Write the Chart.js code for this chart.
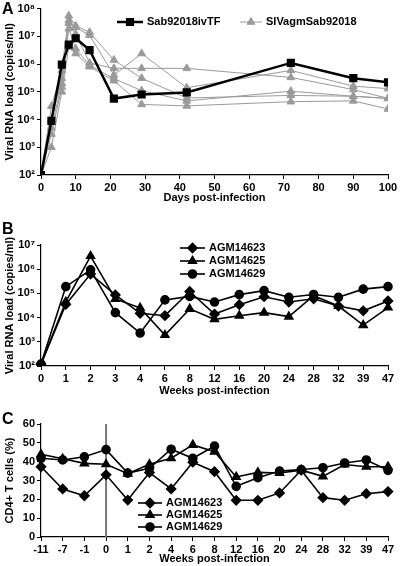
<!DOCTYPE html>
<html>
<head>
<meta charset="utf-8">
<script src="https://cdn.jsdelivr.net/npm/chart.js@4.4.1/dist/chart.umd.min.js"></script>
<style>
  html, body { margin: 0; padding: 0; background: #fff; }
  body { width: 400px; height: 566px; position: relative; overflow: hidden; font-family: "Liberation Sans", Arial, sans-serif; }
  .panel { position: absolute; left: 0; width: 400px; }
  .letter { position: absolute; left: 2px; font-weight: bold; font-size: 16px; line-height: 16px; }
</style>
</head>
<body>
<div class="panel" style="top:0;height:205px"><canvas id="chartA"></canvas></div>
<div class="panel" style="top:205px;height:193px"><canvas id="chartB"></canvas></div>
<div class="panel" style="top:398px;height:168px"><canvas id="chartC"></canvas></div>
<div class="letter" style="top:1px">A</div>
<div class="letter" style="top:221px">B</div>
<div class="letter" style="top:411px">C</div>
<script>
// ---- panel A: viral load, days post-infection
const daysA = [0, 3, 6, 8, 10, 14, 21, 29, 42, 72, 90, 100];
const ivtfLoad = [1e2, 9e3, 9.5e5, 5e6, 8.5e6, 3.2e6, 5.7e4, 8e4, 9.5e4, 1.1e6, 3.1e5, 2.2e5];
const sabLoad1 = [1e2, 3e4, 6e5, 5.5e7, 2.4e7, 1.4e7, 1.4e6, 3.1e5, 6e4, 7.4e4, 6.9e4, 5.8e4];
const sabLoad2 = [1e2, 1e4, 3e5, 3.7e7, 2.1e7, 1.1e7, 4e5, 2.4e6, 1.4e5, 5.9e5, 1.6e5, 1.3e5];
const sabLoad3 = [1e2, 5e3, 2e5, 3e7, 1.2e7, 1.1e6, 7e5, 7e5, 7e5, 3.3e5, 1.2e5, 5.8e4];
const sabLoad4 = [1e2, 3e3, 1.5e5, 1.9e7, 3.6e6, 9e5, 3e5, 1.1e5, 4.7e4, 1.05e5, 6.9e4, 5.8e4];
const sabLoad5 = [1e2, 1e3, 1e5, 4e6, 2.4e6, 8e5, 2.5e5, 3.5e4, 3.1e4, 4.4e4, 4.7e4, 2.4e4];

// ---- panel B: viral load, weeks post-infection
const weeksB = ['0', '1', '2', '3', '4', '6', '8', '12', '16', '20', '24', '28', '32', '39', '47'];
const load14623 = [1.2e2, 3.5e4, 6.3e5, 8.6e4, 1.5e4, 1.2e4, 1.2e5, 1.4e4, 3.4e4, 7.3e4, 4.4e4, 6e4, 3e4, 1.9e4, 4.9e4];
const load14625 = [1.2e2, 4.5e4, 3.5e6, 5.9e4, 2.5e4, 1.9e3, 2.3e4, 8.5e3, 1.2e4, 1.6e4, 1.1e4, 8e4, 3e4, 4.9e3, 2.6e4];
const load14629 = [1.2e2, 1.9e5, 9.4e5, 1.6e4, 2.3e3, 5.4e4, 7.5e4, 4.4e4, 8.9e4, 1.3e5, 6.9e4, 9e4, 6.9e4, 1.5e5, 1.9e5];

// ---- panel C: CD4+ T cells
const weeksC = ['-11', '-7', '-1', '0', '1', '2', '4', '6', '8', '12', '16', '20', '24', '28', '32', '39', '47'];
const cd4_14623 = [37.3, 25.5, 21.9, 33, 19.6, 34.2, 25.5, 39.7, 34.7, 19.5, 19.5, 23.4, 35.5, 20.9, 19.5, 23, 24.1];
const cd4_14625 = [43.9, 41.5, 39.1, 38.6, 33.6, 38.6, 41.8, 48.9, 45.3, 31.9, 34.3, 34, 35.5, 32.2, 38.5, 37.3, 37.3];
const cd4_14629 = [41.8, 40.9, 42.6, 46.4, 33.9, 36.5, 46.6, 41.8, 48.3, 26.9, 31.5, 35, 35.8, 36.8, 39.3, 40.9, 35.4];
const infectionWeek = '0';

const FONT = '"Liberation Sans", Arial, Helvetica, sans-serif';
Chart.defaults.font.family = FONT;
Chart.defaults.color = '#000';
Chart.defaults.animation = false;
Chart.defaults.plugins.legend.display = false;
Chart.defaults.plugins.tooltip.enabled = false;
Chart.defaults.elements.line.tension = 0;

const SUP = { 2: '\u00b2', 3: '\u00b3', 4: '\u2074', 5: '\u2075', 6: '\u2076', 7: '\u2077', 8: '\u2078' };
const tickFont = { size: 11, weight: 'bold' };
const titleFont = { size: 11, weight: 'bold' };
const gridStyle = { drawOnChartArea: false, drawTicks: true, tickLength: 4, color: '#000', lineWidth: 1 };
const borderStyle = { display: true, color: '#000', width: 1.2 };

// legend drawn as line + marker + label, like the figure
const lineLegend = {
  id: 'lineLegend',
  afterDraw(chart, args, opts) {
    if (!opts.items) return;
    const ctx = chart.ctx;
    ctx.save();
    opts.items.forEach(it => {
      const ds = chart.data.datasets[it.ds];
      ctx.strokeStyle = ds.borderColor;
      ctx.lineWidth = ds.borderWidth;
      ctx.beginPath();
      ctx.moveTo(it.x, it.y);
      ctx.lineTo(it.x + it.len, it.y);
      ctx.stroke();
      ctx.fillStyle = ds.pointBackgroundColor;
      ctx.strokeStyle = ds.pointBackgroundColor;
      Chart.helpers.drawPoint(ctx, { pointStyle: ds.pointStyle, radius: ds.pointRadius, borderWidth: 1, rotation: 0 }, it.x + it.len / 2, it.y);
      ctx.fillStyle = '#000';
      ctx.font = 'bold 11px ' + FONT;
      ctx.textBaseline = 'middle';
      ctx.fillText(ds.label, it.x + it.len + 4, it.y);
    });
    ctx.restore();
  }
};

function logAxis(minExp, maxExp, title) {
  return {
    type: 'logarithmic', min: 10 ** minExp, max: 10 ** maxExp,
    afterBuildTicks: s => {
      s.ticks = [];
      for (let e = minExp; e <= maxExp; e++) s.ticks.push({ value: 10 ** e });
    },
    afterFit: s => { s.width = 41; },
    ticks: { font: tickFont, padding: 2, callback: v => '10' + SUP[Math.round(Math.log10(v))] },
    grid: gridStyle, border: borderStyle,
    title: { display: true, text: title, font: titleFont, padding: { top: 3, bottom: 0 } }
  };
}

function bottomAxis(type, title, h, extra) {
  return Object.assign({
    type: type, offset: false,
    afterFit: s => { s.height = h; },
    ticks: { font: tickFont, padding: 2, autoSkip: false, maxRotation: 0 },
    grid: Object.assign({ offset: false }, gridStyle), border: borderStyle,
    title: { display: true, text: title, font: titleFont, padding: { top: 0, bottom: 0 } }
  }, extra || {});
}

function xy(xs, ys) { return xs.map((x, i) => ({ x: x, y: ys[i] })); }

function graySeries(label, ys) {
  return {
    label: label, data: xy(daysA, ys), order: 1,
    borderColor: '#9a9a9a', borderWidth: 1,
    pointStyle: 'triangle', pointRadius: 4.5,
    pointBackgroundColor: '#9a9a9a', pointBorderColor: '#9a9a9a'
  };
}

function blackSeries(label, data, style, radius) {
  return {
    label: label, data: data,
    borderColor: '#000', borderWidth: 1.6,
    pointStyle: style, pointRadius: radius,
    pointBackgroundColor: '#000', pointBorderColor: '#000'
  };
}

// Panel A
new Chart(document.getElementById('chartA'), {
  type: 'line',
  data: {
    datasets: [
      {
        label: 'Sab92018ivTF', data: xy(daysA, ivtfLoad), order: 0,
        borderColor: '#000', borderWidth: 2.5,
        pointStyle: 'rect', pointRadius: 4,
        pointBackgroundColor: '#000', pointBorderColor: '#000'
      },
      graySeries('SIVagmSab92018', sabLoad1),
      graySeries('SIVagmSab92018', sabLoad2),
      graySeries('SIVagmSab92018', sabLoad3),
      graySeries('SIVagmSab92018', sabLoad4),
      graySeries('SIVagmSab92018', sabLoad5)
    ]
  },
  options: {
    responsive: true, maintainAspectRatio: false,
    layout: { padding: { top: 6, right: 12, left: 0, bottom: 0 } },
    scales: {
      x: bottomAxis('linear', 'Days post-infection', 30, { min: 0, max: 100 }),
      y: logAxis(2, 8, 'Viral RNA load (copies/ml)')
    },
    plugins: {
      lineLegend: { items: [
        { ds: 0, x: 117, y: 22, len: 26 },
        { ds: 1, x: 240, y: 22, len: 22 }
      ] }
    }
  },
  plugins: [lineLegend]
});
// step of 10 on the day axis
Chart.getChart('chartA').options.scales.x.ticks.stepSize = 10;
Chart.getChart('chartA').update();

// Panel B
new Chart(document.getElementById('chartB'), {
  type: 'line',
  data: {
    labels: weeksB,
    datasets: [
      blackSeries('AGM14623', load14623, 'rectRot', 4.5),
      blackSeries('AGM14625', load14625, 'triangle', 4.5),
      blackSeries('AGM14629', load14629, 'circle', 4)
    ]
  },
  options: {
    responsive: true, maintainAspectRatio: false,
    layout: { padding: { top: 40, right: 12, left: 0, bottom: 0 } },
    scales: {
      x: bottomAxis('category', 'Weeks post-infection', 32),
      y: logAxis(2, 7, 'Viral RNA load (copies/ml)')
    },
    plugins: {
      lineLegend: { items: [
        { ds: 0, x: 180, y: 43, len: 25 },
        { ds: 1, x: 180, y: 56, len: 25 },
        { ds: 2, x: 180, y: 69, len: 25 }
      ] }
    }
  },
  plugins: [lineLegend]
});

// Panel C
new Chart(document.getElementById('chartC'), {
  type: 'line',
  data: {
    labels: weeksC,
    datasets: [
      blackSeries('AGM14623', cd4_14623, 'rectRot', 4.5),
      blackSeries('AGM14625', cd4_14625, 'triangle', 4.5),
      blackSeries('AGM14629', cd4_14629, 'circle', 4),
      {
        label: 'infection', data: [{ x: infectionWeek, y: 0 }, { x: infectionWeek, y: 60 }],
        borderColor: '#777', borderWidth: 2, pointRadius: 0, order: 5
      }
    ]
  },
  options: {
    responsive: true, maintainAspectRatio: false,
    layout: { padding: { top: 26, right: 12, left: 0, bottom: 0 } },
    scales: {
      x: bottomAxis('category', 'Weeks post-infection', 29),
      y: {
        type: 'linear', min: 0, max: 60,
        afterFit: s => { s.width = 41; },
        ticks: { font: tickFont, padding: 2, stepSize: 10 },
        grid: gridStyle, border: borderStyle,
        title: { display: true, text: 'CD4+ T cells (%)', font: titleFont, padding: { top: 3, bottom: 0 } }
      }
    },
    plugins: {
      lineLegend: { items: [
        { ds: 0, x: 138, y: 105, len: 24 },
        { ds: 1, x: 138, y: 117, len: 24 },
        { ds: 2, x: 138, y: 129, len: 24 }
      ] }
    }
  },
  plugins: [lineLegend]
});
</script>
</body>
</html>
